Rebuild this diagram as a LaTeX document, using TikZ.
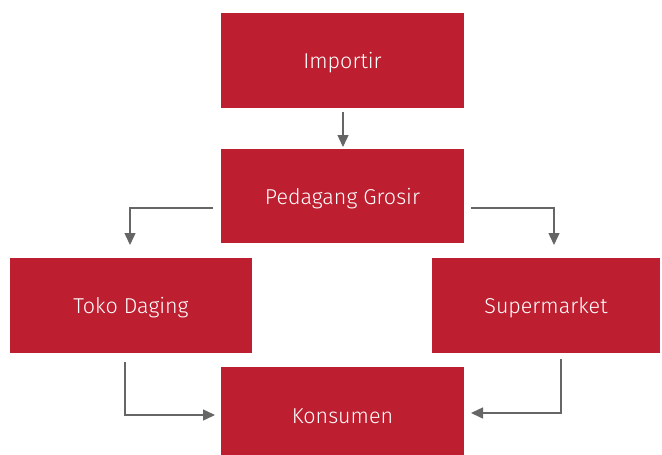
\documentclass[tikz,border=0pt]{standalone}
\usepackage{fontspec}
\setmainfont{Fira Sans}[UprightFont={* Light}]
\usetikzlibrary{arrows.meta}
\definecolor{boxred}{HTML}{BE1F30}
\definecolor{arrgray}{HTML}{666666}
\begin{document}
\begin{tikzpicture}[x=1pt,y=-1pt,
  box/.style={fill=boxred,draw=none,text=white,font=\fontsize{21.5}{24}\selectfont},
  conn/.style={draw=arrgray,line width=1.4pt,-{Triangle[length=12pt,width=11pt]}}]
\useasboundingbox (0,0) rectangle (662,455);
\fill[boxred] (221,13) rectangle (464,108);
\node[box] (imp) at (342.5,63) {Importir};
\fill[boxred] (221,149) rectangle (464,243);
\node[box] (gro) at (342.5,199) {Pedagang Grosir};
\fill[boxred] (10,258) rectangle (252,353);
\node[box] (tok) at (131,308) {Toko Daging};
\fill[boxred] (432,258) rectangle (660,353);
\node[box] (sup) at (546,308) {Supermarket};
\fill[boxred] (221,367) rectangle (464,455);
\node[box] (kon) at (342.5,416) {Konsumen};
\coordinate (a1) at (343,112);
\coordinate (a2) at (343,147);
\coordinate (b1) at (213,208);
\coordinate (b2) at (130,245);
\coordinate (c1) at (471,208);
\coordinate (c2) at (554,245);
\coordinate (d1) at (125,362);
\coordinate (d2) at (215,415);
\coordinate (e1) at (561,359);
\coordinate (e2) at (471,413);
\draw[conn] (a1) -- (a2);
\draw[conn] (b1) -| (b2);
\draw[conn] (c1) -| (c2);
\draw[conn] (d1) |- (d2);
\draw[conn] (e1) |- (e2);
\end{tikzpicture}
\end{document}
